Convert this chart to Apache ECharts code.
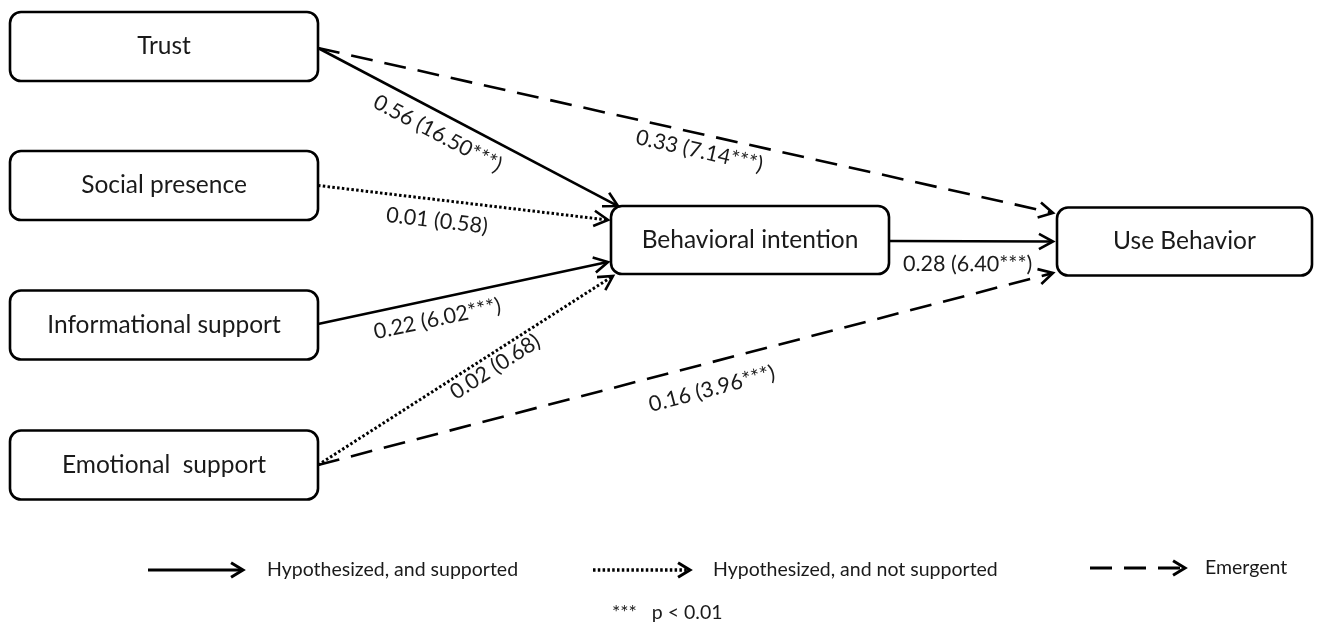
<!DOCTYPE html>
<html><head><meta charset="utf-8">
<script src="https://cdn.jsdelivr.net/npm/echarts@6/dist/echarts.min.js"></script>
<style>html,body{margin:0;padding:0;background:#fff}#chart{width:1320px;height:624px}</style>
</head><body><div id="chart"></div>
<script>
// ---------------- data ----------------
const constructs = ['Trust', 'Social presence', 'Informational support', 'Emotional  support', 'Behavioral intention', 'Use Behavior'];
const pathFrom = ['Trust', 'Trust', 'Social presence', 'Informational support', 'Emotional  support', 'Emotional  support', 'Behavioral intention'];
const pathTo = ['Behavioral intention', 'Use Behavior', 'Behavioral intention', 'Behavioral intention', 'Behavioral intention', 'Use Behavior', 'Use Behavior'];
const pathCoef = ['0.56', '0.33', '0.01', '0.22', '0.02', '0.16', '0.28'];
const pathT = ['16.50***', '7.14***', '0.58', '6.02***', '0.68', '3.96***', '6.40***'];
const pathKind = ['supported', 'emergent', 'notSupported', 'supported', 'notSupported', 'emergent', 'supported'];
const legendKinds = ['supported', 'notSupported', 'emergent'];
const legendLabels = ['Hypothesized, and supported', 'Hypothesized, and not supported', 'Emergent'];
const footnote = '***   p < 0.01';

// ---------------- layout (positions / sizes, in canvas units) ----------------
const nodeCenter = {
  'Trust': [164, 46.5], 'Social presence': [164, 185.5], 'Informational support': [164, 325],
  'Emotional  support': [164, 465], 'Behavioral intention': [750, 240], 'Use Behavior': [1184.5, 241.5]
};
const nodeSize = {
  'Trust': [308, 69], 'Social presence': [308, 69], 'Informational support': [308, 69],
  'Emotional  support': [308, 69], 'Behavioral intention': [278, 68], 'Use Behavior': [255, 68]
};
// target anchor offset relative to target's left-middle point
const targetOffset = [[7, -34], [-4, -28.5], [-3, -20], [-3, 22], [2, 36], [-4, 31.5], [-4, 0]];
const sourceOffset = [[0, 1.5], [0, 1.5], [0, 0], [0, -1], [0, 0], [0, 0], [0, 1]];
// label placement: fraction along path, perpendicular offset
const labelPlace = [[0.43, 20], [0.524, 17], [0.419, 21], [0.397, 20], [0.577, 13], [0.527, 26], [0.48, 23]];
// legend layout: [x0, x1, y, textX]
const legendPlace = [[148, 243, 570, 267], [593, 690, 570, 713], [1090, 1185, 568, 1205]];

const styleOf = {
  supported: { lineDash: null, lineWidth: 2.6 },
  notSupported: { lineDash: [2.5, 2.3], lineWidth: 3 },
  emergent: { lineDash: [22, 12], lineWidth: 2.6 }
};
const FONT = 'Lato, "Open Sans", sans-serif';

function arrowHead(tip, ang, L, th) {
  return [
    [tip[0] - L * Math.cos(ang - th), tip[1] - L * Math.sin(ang - th)],
    tip,
    [tip[0] - L * Math.cos(ang + th), tip[1] - L * Math.sin(ang + th)]
  ];
}

const chart = echarts.init(document.getElementById('chart'), null, { renderer: 'canvas' });

chart.setOption({
  animation: false,
  backgroundColor: '#ffffff',
  grid: { left: 0, right: 0, top: 0, bottom: 0 },
  xAxis: { type: 'value', min: 0, max: 1320, show: false },
  yAxis: { type: 'value', min: 0, max: 624, inverse: true, show: false },
  series: [
    {
      type: 'custom', name: 'boxes', clip: false, silent: true, z: 2,
      data: constructs.map((_, i) => [i]),
      renderItem: function (params, api) {
        const name = constructs[api.value(0)];
        const c = nodeCenter[name], s = nodeSize[name];
        const p0 = api.coord([c[0] - s[0] / 2, c[1] - s[1] / 2]);
        const p1 = api.coord([c[0] + s[0] / 2, c[1] + s[1] / 2]);
        const pc = api.coord(c);
        return {
          type: 'group',
          children: [
            { type: 'rect', shape: { x: p0[0], y: p0[1], width: p1[0] - p0[0], height: p1[1] - p0[1], r: 11 },
              style: { fill: '#fff', stroke: '#000', lineWidth: 2.6 } },
            { type: 'text', x: pc[0], y: pc[1],
              style: { text: name, fill: '#1a1a1a', font: '24.5px ' + FONT, align: 'center', verticalAlign: 'middle' } }
          ]
        };
      }
    },
    {
      type: 'custom', name: 'paths', clip: false, silent: true, z: 3,
      data: pathFrom.map((_, i) => [i]),
      renderItem: function (params, api) {
        const i = api.value(0);
        const sc = nodeCenter[pathFrom[i]], ss = nodeSize[pathFrom[i]];
        const tc = nodeCenter[pathTo[i]], ts = nodeSize[pathTo[i]];
        const a = api.coord([sc[0] + ss[0] / 2 + sourceOffset[i][0], sc[1] + sourceOffset[i][1]]);
        const b = api.coord([tc[0] - ts[0] / 2 + targetOffset[i][0], tc[1] + targetOffset[i][1]]);
        const dx = b[0] - a[0], dy = b[1] - a[1];
        const len = Math.sqrt(dx * dx + dy * dy);
        const ux = dx / len, uy = dy / len;
        const ang = Math.atan2(dy, dx);
        const st = styleOf[pathKind[i]];
        const lp = labelPlace[i];
        const lx = a[0] + dx * lp[0] - uy * lp[1];
        const ly = a[1] + dy * lp[0] + ux * lp[1];
        return {
          type: 'group',
          children: [
            { type: 'polyline', shape: { points: [a, [b[0] - ux * 1.5, b[1] - uy * 1.5]] },
              style: { fill: null, stroke: '#000', lineWidth: st.lineWidth, lineDash: st.lineDash, lineCap: 'butt' } },
            { type: 'polyline', shape: { points: arrowHead(b, ang, 16, 0.5) },
              style: { fill: null, stroke: '#000', lineWidth: 2.6, lineJoin: 'miter' } },
            { type: 'text', x: lx, y: ly, rotation: -ang,
              style: { text: pathCoef[i] + ' (' + pathT[i] + ')', fill: '#1a1a1a', font: '21.5px ' + FONT,
                align: 'center', verticalAlign: 'middle' } }
          ]
        };
      }
    },
    {
      type: 'custom', name: 'legend', clip: false, silent: true, z: 3,
      data: legendKinds.map((_, i) => [i]),
      renderItem: function (params, api) {
        const i = api.value(0);
        const lp = legendPlace[i];
        const a = api.coord([lp[0], lp[2]]), b = api.coord([lp[1], lp[2]]);
        const st = styleOf[legendKinds[i]];
        const t = api.coord([lp[3], lp[2]]);
        return {
          type: 'group',
          children: [
            { type: 'polyline', shape: { points: [a, [b[0] - 2, b[1]]] },
              style: { fill: null, stroke: '#000', lineWidth: st.lineWidth + 0.6, lineDash: st.lineDash } },
            { type: 'polyline', shape: { points: arrowHead(b, 0, 14, 0.55) },
              style: { fill: null, stroke: '#000', lineWidth: 3 } },
            { type: 'text', x: t[0], y: t[1],
              style: { text: legendLabels[i], fill: '#1a1a1a', font: '19.5px ' + FONT, align: 'left', verticalAlign: 'middle' } }
          ]
        };
      }
    }
  ],
  graphic: [
    { type: 'text', left: 612, top: 603, silent: true,
      style: { text: footnote, fill: '#1a1a1a', font: '19.5px ' + FONT } }
  ]
});
</script>
</body></html>
